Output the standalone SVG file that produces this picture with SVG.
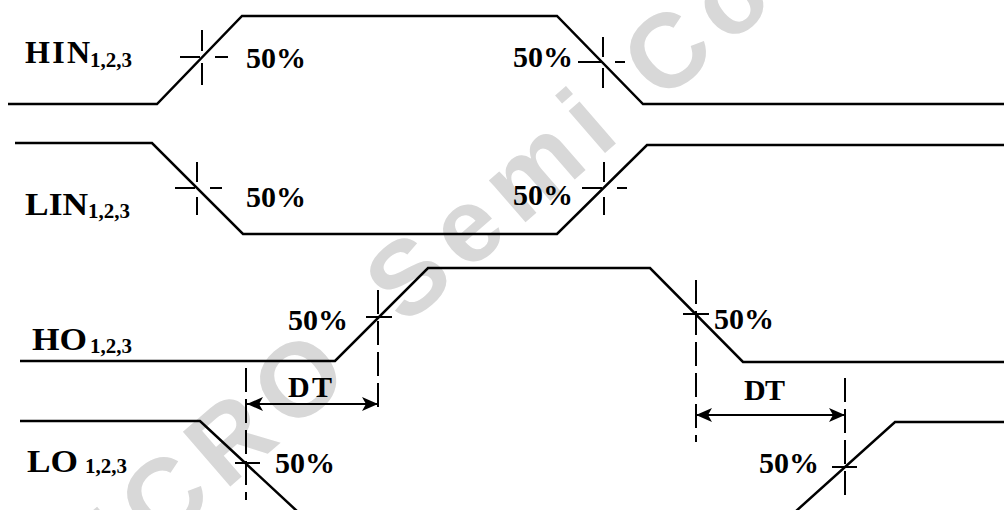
<svg xmlns="http://www.w3.org/2000/svg" width="1004" height="510" viewBox="0 0 1004 510">
<defs>
<style>
.sig{fill:none;stroke:#000;stroke-width:2.5;stroke-linejoin:miter}
.mk{fill:none;stroke:#000;stroke-width:2}
.dash{fill:none;stroke:#000;stroke-width:2;stroke-dasharray:24 7}
.arr{fill:none;stroke:#000;stroke-width:2.2}
.t{font-family:"Liberation Serif","Times New Roman",serif;font-weight:bold;fill:#000}
.p{font-size:30px}
.lb{font-size:32px}
.sub{font-size:21px}
.wm{font-family:"Liberation Sans",Arial,sans-serif;font-weight:bold;font-size:105px;fill:#d8d8d8;letter-spacing:12px}
</style>
<marker id="ah" viewBox="0 0 16 14" refX="16" refY="7" markerWidth="16" markerHeight="14" markerUnits="userSpaceOnUse" orient="auto-start-reverse">
<path d="M0,0 L16,7 L0,14 L4,7 Z" fill="#000"/>
</marker>
</defs>
<rect width="1004" height="510" fill="#fff"/>
<g id="watermark">
<text class="wm" transform="translate(362,372) rotate(-41)" text-anchor="end" letter-spacing="18">MICRO</text>
<text class="wm" transform="translate(405,327) rotate(-41)">Semi Con</text>
</g>
<g id="connectors">
<path class="sig" d="M8,104 H157 L242,16 H557 L643,104 H1004"/>
<path class="sig" d="M15,143 H152 L243,234 H557 L647,145 H1004"/>
<path class="sig" d="M20,361 H335 L428,268 H650 L743,362 H1004"/>
<path class="sig" d="M20,421 H200 L298,512"/>
<path class="sig" d="M795,512 L895,422 H1004"/>
<path class="mk" d="M202,30V51 M202,63V85 M180,57H200 M215,57H228"/>
<path class="mk" d="M603,37V57 M603,68V88 M578,62H601 M615,62H625"/>
<path class="mk" d="M197,162V182 M197,197V215 M175,188H195 M210,188H222"/>
<path class="mk" d="M604,162V182 M604,197V215 M582,188H602 M617,188H627"/>
<path class="dash" d="M378,290V410"/>
<path class="mk" d="M366,317H392"/>
<path class="dash" d="M696,280V442"/>
<path class="mk" d="M683,314H709"/>
<path class="dash" d="M246,368V500"/>
<path class="mk" d="M235,463H260"/>
<path class="dash" d="M845,378V495"/>
<path class="mk" d="M832,467H857"/>
<path class="arr" d="M247,404H378" marker-start="url(#ah)" marker-end="url(#ah)"/>
<path class="arr" d="M696,415H845" marker-start="url(#ah)" marker-end="url(#ah)"/>
</g>
<g id="HIN">
<text class="t lb" x="25" y="63" textLength="65" lengthAdjust="spacing">HIN</text>
<text class="t sub" x="90" y="67">1,2,3</text>
</g>
<g id="LIN">
<text class="t lb" x="25" y="215" textLength="63" lengthAdjust="spacingAndGlyphs">LIN</text>
<text class="t sub" x="88" y="218">1,2,3</text>
</g>
<g id="HO">
<text class="t lb" x="32" y="350" textLength="55" lengthAdjust="spacingAndGlyphs">HO</text>
<text class="t sub" x="90" y="353">1,2,3</text>
</g>
<g id="LO">
<text class="t lb" x="27" y="472" textLength="51" lengthAdjust="spacingAndGlyphs">LO</text>
<text class="t sub" x="85" y="473">1,2,3</text>
</g>
<g id="labels">
<text class="t p" x="246" y="68">50%</text>
<text class="t p" x="513" y="67">50%</text>
<text class="t p" x="246" y="207">50%</text>
<text class="t p" x="513" y="205">50%</text>
<text class="t p" x="288" y="330">50%</text>
<text class="t p" x="714" y="329">50%</text>
<text class="t p" x="275" y="473">50%</text>
<text class="t p" x="759" y="473">50%</text>
<text class="t p" x="288" y="397" textLength="44" lengthAdjust="spacing">DT</text>
<text class="t p" x="744" y="400" textLength="41" lengthAdjust="spacing">DT</text>
</g>
</svg>
